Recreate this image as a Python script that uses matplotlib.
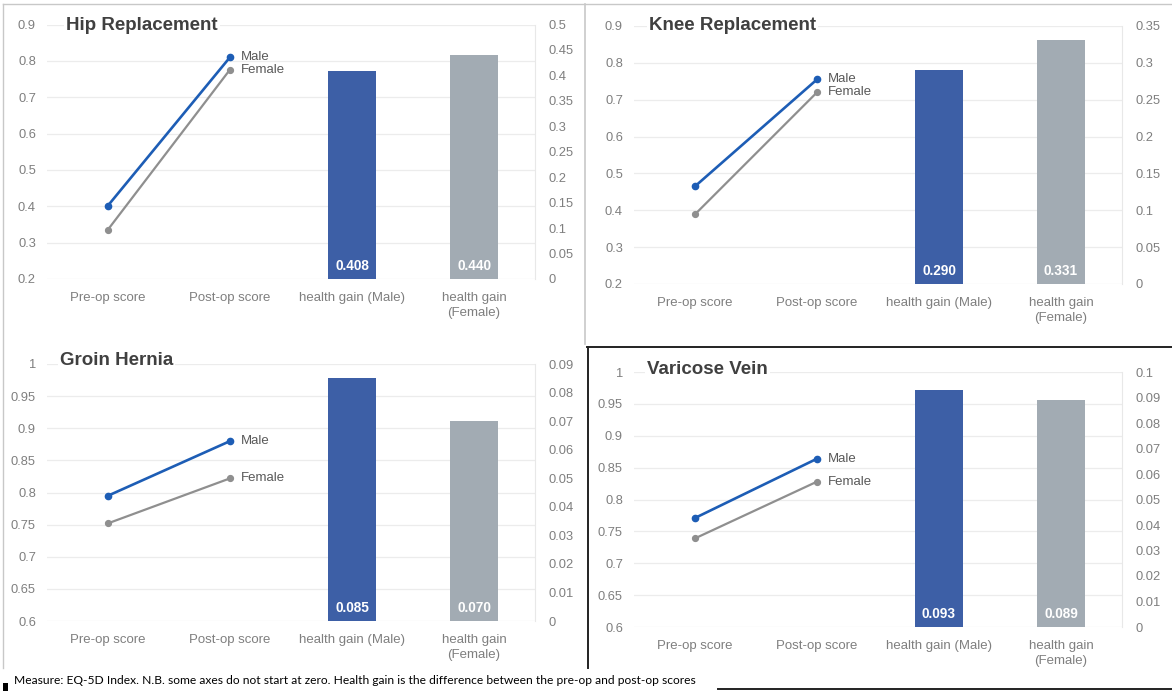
import numpy as np
import matplotlib
matplotlib.use('Agg')
import matplotlib.pyplot as plt
from matplotlib.ticker import FuncFormatter

W, H = 1172, 691

categories = ['Pre-op score', 'Post-op score', 'health gain (Male)', 'health gain\n(Female)']
procedures = ['Hip Replacement', 'Knee Replacement', 'Groin Hernia', 'Varicose Vein']

# EQ-5D index scores, pre and post operation
male_pre = [0.402, 0.465, 0.795, 0.771]
male_post = [0.810, 0.755, 0.880, 0.864]
female_pre = [0.336, 0.389, 0.752, 0.739]
female_post = [0.776, 0.720, 0.822, 0.828]

# health gain = post-op minus pre-op
gain_male = [0.408, 0.290, 0.085, 0.093]
gain_female = [0.440, 0.331, 0.070, 0.089]

# (low, high, step) for the score axis and the gain axis of each panel
score_range = [(0.2, 0.9, 0.1), (0.2, 0.9, 0.1), (0.6, 1.0, 0.05), (0.6, 1.0, 0.05)]
gain_range = [(0, 0.5, 0.05), (0, 0.35, 0.05), (0, 0.09, 0.01), (0, 0.1, 0.01)]

footnote = ('Measure: EQ-5D Index. N.B. some axes do not start at zero. '
            'Health gain is the difference between the pre-op and post-op scores')

# plot areas in pixels: left, right, top, bottom
boxes = [(47, 535, 24.5, 279), (634, 1122, 26, 284),
         (47, 535, 364, 621), (634, 1122, 372, 627)]
title_pos = [(66, 25), (649, 25), (60, 360), (647, 369)]

MALE_LINE = '#1d5db5'
FEMALE_LINE = '#8f8f8f'
MALE_BAR = '#3d5fa6'
FEMALE_BAR = '#a2abb3'
TICK = '#7f7f7f'

plt.rcParams['font.family'] = ['Liberation Sans', 'DejaVu Sans']

fig = plt.figure(figsize=(W / 100, H / 100), dpi=100)
fig.patch.set_facecolor('white')


def px_box(x0, x1, y0, y1):
    return [x0 / W, 1 - y1 / H, (x1 - x0) / W, (y1 - y0) / H]


fmt = FuncFormatter(lambda v, p: f'{v:g}')
xs = np.arange(len(categories))

for i, name in enumerate(procedures):
    ax = fig.add_axes(px_box(*boxes[i]))
    ax2 = ax.twinx()

    lo, hi, step = score_range[i]
    ax.set_ylim(lo, hi)
    ax.set_yticks(np.round(np.arange(lo, hi + step / 2, step), 3))
    glo, ghi, gstep = gain_range[i]
    ax2.set_ylim(glo, ghi)
    ax2.set_yticks(np.round(np.arange(glo, ghi + gstep / 2, gstep), 3))
    for a in (ax, ax2):
        a.yaxis.set_major_formatter(fmt)
        a.set_xlim(-0.5, 3.5)
        a.tick_params(length=0, labelsize=9.3, labelcolor=TICK)
        for s in a.spines.values():
            s.set_visible(False)
    ax.tick_params(axis='y', pad=8)
    ax2.tick_params(axis='y', pad=10)
    ax2.spines['right'].set_visible(True)
    ax2.spines['right'].set_color('#e8e8e8')

    ax.set_xticks(xs)
    ax.set_xticklabels(categories, fontsize=9.5, color=TICK, linespacing=1.3)
    ax.tick_params(axis='x', pad=9.5)
    ax.grid(axis='y', color='#ececec', linewidth=0.9)
    ax.set_axisbelow(True)

    # score lines
    ax.plot([0, 1], [female_pre[i], female_post[i]], color=FEMALE_LINE, lw=1.6,
            marker='o', ms=4.2, clip_on=False, zorder=3)
    ax.plot([0, 1], [male_pre[i], male_post[i]], color=MALE_LINE, lw=1.9,
            marker='o', ms=4.5, clip_on=False, zorder=4)
    ax.annotate('Male', xy=(1, male_post[i]), xytext=(8, 0), textcoords='offset points',
                ha='left', va='center', fontsize=9.5, color='#595959')
    ax.annotate('Female', xy=(1, female_post[i]), xytext=(8, 0), textcoords='offset points',
                ha='left', va='center', fontsize=9.5, color='#595959')

    # health gain bars
    ax2.bar([2, 3], [gain_male[i], gain_female[i]], width=0.4,
            color=[MALE_BAR, FEMALE_BAR])
    for x, v in zip([2, 3], [gain_male[i], gain_female[i]]):
        ax2.annotate(f'{v:.3f}', xy=(x, 0), xytext=(0, 9), textcoords='offset points',
                     ha='center', va='center', color='white', fontsize=9.8,
                     fontweight='bold')

# overlay for titles, panel borders and footnote
frame = fig.add_axes([0, 0, 1, 1])
frame.set_xlim(0, W)
frame.set_ylim(H, 0)
frame.axis('off')
frame.patch.set_alpha(0)

for name, (tx, ty) in zip(procedures, title_pos):
    frame.text(tx, ty, name, fontsize=13.5, fontweight='bold', color='#404040',
               ha='left', va='center',
               bbox=dict(facecolor='white', edgecolor='none', pad=1.5))

grey = '#c8c8c8'
frame.plot([3, W], [4, 4], color=grey, lw=1)
frame.plot([3, 3], [4, 668], color=grey, lw=1)
frame.plot([585, 585], [4, 344], color=grey, lw=1.2)
frame.plot([587, W], [347, 347], color='#222222', lw=1.4)
frame.plot([588, 588], [347, 668], color='#222222', lw=1.4)
frame.plot([718, W], [689, 689], color='#222222', lw=1.4)
frame.fill_between([3, 8], 683, 691, color='black', lw=0)

frame.text(14, 680, footnote, fontsize=8.65, color='black', ha='left', va='center',
           family=['Lato', 'DejaVu Sans'])

fig.savefig('out.png', dpi=100)
